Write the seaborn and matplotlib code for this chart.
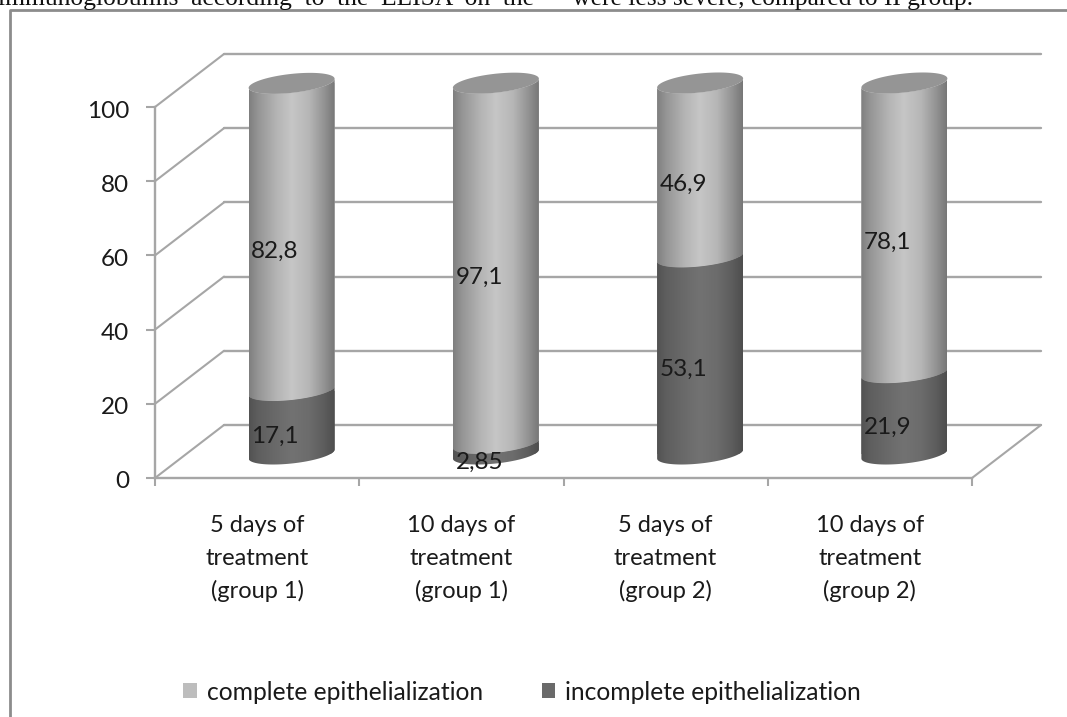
import numpy as np
import pandas as pd
import matplotlib
matplotlib.use("Agg")
import matplotlib.pyplot as plt
from matplotlib.lines import Line2D
from matplotlib.path import Path
from matplotlib.patches import PathPatch
from matplotlib.colors import LinearSegmentedColormap
from matplotlib.transforms import Affine2D, IdentityTransform
import seaborn as sns

categories = ["5 days of\ntreatment\n(group 1)", "10 days of\ntreatment\n(group 1)",
              "5 days of\ntreatment\n(group 2)", "10 days of\ntreatment\n(group 2)"]
complete = [82.8, 97.1, 46.9, 78.1]
incomplete = [17.1, 2.85, 53.1, 21.9]
complete_labels = ["82,8", "97,1", "46,9", "78,1"]
incomplete_labels = ["17,1", "2,85", "53,1", "21,9"]
series_names = ["complete epithelialization", "incomplete epithelialization"]
y_ticks = [0, 20, 40, 60, 80, 100]
caption = "immunoglobulins  according  to  the  ELISA  on  the      were less severe, compared to II group."

sns.set_theme(style="white")
plt.rcParams["font.family"] = ["Lato", "DejaVu Sans"]

W, H = 1067, 717
fig = plt.figure(figsize=(W / 100, H / 100), dpi=100, facecolor="white")
ax = fig.add_axes([155 / W, (H - 478) / H, (972 - 155) / W, (478 - 107) / H])
ax.patch.set_alpha(0)

GRID = "#a6a6a6"
TEXT = "#1a1a1a"
DEPTH = (69, 53)           # back wall offset, pixels
BAR_OFF = (34.5, 24)       # bar axis offset, pixels
A, B, S = 43, 9.5, 0.105   # ellipse half width, half height, tilt

df = pd.DataFrame({"cat": categories, "complete": complete, "incomplete": incomplete})
df["total"] = df["complete"] + df["incomplete"]

sns.barplot(data=df, x="cat", y="total", color="#bdbdbd", saturation=1, width=0.42,
            linewidth=0, label=series_names[0], ax=ax, zorder=3)
n_first = len(ax.patches)
sns.barplot(data=df, x="cat", y="incomplete", color="#6a6a6a", saturation=1, width=0.42,
            linewidth=0, label=series_names[1], ax=ax, zorder=3)
ax.set_xlim(-0.5, 3.5)
ax.set_ylim(0, 100)
ax.set_xlabel("")
ax.set_ylabel("")
ax.set_yticks(y_ticks)
ax.tick_params(axis="y", length=6.5, width=1.5, color=GRID, pad=12, labelsize=17.5, labelcolor=TEXT, left=True)
ax.set_xticks(np.arange(-0.5, 4, 1), minor=True)
ax.tick_params(axis="x", which="minor", length=6, width=1.5, color=GRID, bottom=True)
ax.tick_params(axis="x", which="major", length=0, pad=27, labelsize=17, labelcolor=TEXT)
for t in ax.get_xticklabels():
    t.set_linespacing(1.65)
for t in ax.get_yticklabels():
    t.set_transform(t.get_transform() + Affine2D().translate(0, -2))
for s in ("top", "right"):
    ax.spines[s].set_visible(False)
for s in ("left", "bottom"):
    ax.spines[s].set_color(GRID)
    ax.spines[s].set_linewidth(1.7)
    ax.spines[s].set_zorder(1)

# back wall gridlines and side wall
back = ax.transData + Affine2D().translate(*DEPTH)
for v in y_ticks:
    ax.plot([-0.5, 3.5], [v, v], color=GRID, lw=1.7, transform=back, clip_on=False, zorder=1)
    p = ax.transData.transform((-0.5, v))
    ax.add_line(Line2D([p[0], p[0] + DEPTH[0]], [p[1], p[1] + DEPTH[1]], color=GRID, lw=1.5,
                       transform=IdentityTransform(), clip_on=False, zorder=1))
p = ax.transData.transform((3.5, 0))
ax.add_line(Line2D([p[0], p[0] + DEPTH[0]], [p[1], p[1] + DEPTH[1]], color=GRID, lw=1.5,
                   transform=IdentityTransform(), clip_on=False, zorder=1))

# cylinders built on the seaborn bars
off = ax.transData + Affine2D().translate(*BAR_OFF)
tt = np.linspace(np.pi, 2 * np.pi, 60)


def arc(cx, cy, t):
    return np.c_[cx + A * np.cos(t), cy + S * A * np.cos(t) + B * np.sin(t)]


def segment(cx, y0, y1):
    pts = np.vstack([arc(cx, y0, tt), arc(cx, y1, tt[::-1])])
    return Path(np.vstack([pts, pts[0]]), closed=True)


pos = np.array([0, 0.1, 0.32, 0.5, 0.7, 0.88, 1])
cm_light = LinearSegmentedColormap.from_list(
    "l", list(zip(pos, ["#7f7f7f", "#949494", "#b4b4b4", "#c6c6c6", "#b6b6b6", "#929292", "#777777"])))
cm_dark = LinearSegmentedColormap.from_list(
    "d", list(zip(pos, ["#525252", "#5e5e5e", "#6a6a6a", "#727272", "#6c6c6c", "#5c5c5c", "#4e4e4e"])))
grad = np.linspace(0, 1, 256)[None, :]

for i, patch in enumerate(ax.patches):
    is_top = i < n_first
    x_mid = patch.get_x() + patch.get_width() / 2
    idx = i if is_top else i - n_first
    lo = incomplete[idx] if is_top else 0
    hi = patch.get_height()
    cx, y0 = off.transform((x_mid, lo))
    _, y1 = off.transform((x_mid, hi))
    path = segment(cx, y0, y1)
    patch.set_transform(off)
    patch.set_clip_box(fig.bbox)
    patch.set_clip_path(path, IdentityTransform())
    im = ax.imshow(grad, cmap=cm_light if is_top else cm_dark, aspect="auto",
                   extent=(cx - A, cx + A, y0 - 40, y1 + 40), transform=IdentityTransform(),
                   interpolation="bilinear", zorder=4)
    im.set_clip_box(fig.bbox)
    im.set_clip_path(path, IdentityTransform())
    if is_top:
        top_t = np.linspace(0, 2 * np.pi, 100)
        ax.add_patch(PathPatch(Path(arc(cx, y1, top_t), closed=False), facecolor="#959595",
                               edgecolor="none", transform=IdentityTransform(),
                               clip_on=False, zorder=5))
ax.set_xlim(-0.5, 3.5)
ax.set_ylim(0, 100)

# value labels
for i in range(len(categories)):
    for val, base, txt in ((complete[i], incomplete[i], complete_labels[i]),
                           (incomplete[i], 0, incomplete_labels[i])):
        ax.annotate(txt, (i, base + val / 2), xytext=(18, 10), textcoords="offset pixels",
                    ha="center", va="center", fontsize=17.5, color=TEXT, zorder=7, annotation_clip=False)

# legend
leg = ax.legend(loc="center", bbox_to_anchor=(522 / W, (H - 692) / H), bbox_transform=fig.transFigure,
                ncol=2, frameon=False, fontsize=17.7, handlelength=0.55, handleheight=0.55,
                handletextpad=0.4, columnspacing=2.4, labelcolor=TEXT)

# outer frame and page text
fig.add_artist(Line2D([9.5 / W, 9.5 / W, 1], [0, (H - 10) / H, (H - 10) / H], color="#8c8c8c", lw=2))
fig.text(-2 / W, (H - 5.5) / H, caption, family="Liberation Serif", fontsize=18.4, color="#111111",
         ha="left", va="baseline")

fig.savefig("out.png", dpi=100)
